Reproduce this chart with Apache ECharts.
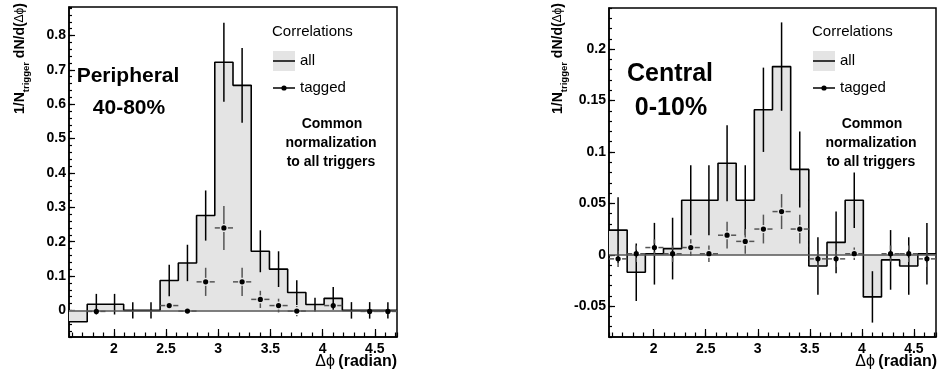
<!DOCTYPE html>
<html>
<head>
<meta charset="utf-8">
<script src="https://cdn.jsdelivr.net/npm/echarts@6/dist/echarts.min.js"></script>
<style>
  html, body { margin: 0; padding: 0; background: #fff; }
  #chart { width: 938px; height: 379px; }
</style>
</head>
<body>
<div id="chart"></div>
<script>
// 18 bins of width pi/18 covering pi/2 .. 3pi/2
const binCount = 18;
const binStart = Math.PI / 2;
const binWidth = Math.PI / 18;

// peripheral 40-80%
const allPeripheral = [-0.033, 0.018, 0.018, 0, 0, 0.087, 0.138, 0.276, 0.722, 0.655, 0.172, 0.12, 0.052, 0.017, 0.035, 0, 0, 0];
const allPeripheralErr = [0, 0.03, 0.03, 0.024, 0.024, 0.046, 0.053, 0.073, 0.115, 0.109, 0.061, 0.052, 0.036, 0.02, 0.033, 0.024, 0.024, 0.024];
const taggedPeripheral = [null, -0.003, null, null, null, 0.014, -0.002, 0.083, 0.24, 0.083, 0.032, 0.014, -0.002, null, 0.014, null, -0.003, -0.003];
const taggedPeripheralErr = [0, 0.006, 0, 0, 0, 0.01, 0.01, 0.041, 0.064, 0.041, 0.025, 0.02, 0.015, 0, 0.01, 0, 0.006, 0.006];

// central 0-10%
const allCentral = [0.024, -0.017, 0.001, 0.006, 0.053, 0.053, 0.089, 0.053, 0.141, 0.183, 0.083, -0.011, 0.012, 0.053, -0.041, -0.005, -0.011, 0.001];
const allCentralErr = [0.032, 0.028, 0.03, 0.03, 0.034, 0.034, 0.037, 0.034, 0.041, 0.043, 0.037, 0.028, 0.03, 0.027, 0.025, 0.029, 0.028, 0.03];
const taggedCentral = [-0.004, 0.001, 0.007, 0.001, 0.007, 0.001, 0.019, 0.013, 0.025, 0.042, 0.025, -0.004, -0.004, 0.001, null, 0.001, 0.001, -0.004];
const taggedCentralErr = [0.008, 0.008, 0.008, 0.008, 0.008, 0.008, 0.013, 0.012, 0.014, 0.017, 0.014, 0.008, 0.008, 0.006, 0, 0.008, 0.008, 0.008];

const yRangePeripheral = [-0.0775, 0.883];
const yRangeCentral = [-0.08, 0.24];

const FONT = "'Liberation Sans', Arial, Helvetica, sans-serif";
const FILL = "#e4e4e4";

const binEdges = [];
for (let i = 0; i <= binCount; i++) binEdges.push(binStart + i * binWidth);
const binCenters = binEdges.slice(0, binCount).map((e) => e + binWidth / 2);

function stepData(vals) {
  const d = vals.map((v, i) => [binEdges[i], v]);
  d.push([binEdges[binCount], vals[binCount - 1]]);
  return d;
}

function errData(vals, errs) {
  const out = [];
  vals.forEach((v, i) => {
    if (v === null) return;
    out.push([binCenters[i], v, errs[i], binEdges[i], binEdges[i + 1]]);
  });
  return out;
}

function renderAllErr(params, api) {
  const x = api.value(0), y = api.value(1), e = api.value(2);
  if (!e) return null;
  const t = api.coord([x, y + e]);
  const b = api.coord([x, y - e]);
  return {
    type: "line",
    shape: { x1: t[0], y1: t[1], x2: b[0], y2: b[1] },
    style: { stroke: "#000", lineWidth: 1.5 }
  };
}

function renderTagged(params, api) {
  const x = api.value(0), y = api.value(1), e = api.value(2);
  const c = api.coord([x, y]);
  const l = api.coord([api.value(3), y]);
  const h = api.coord([api.value(4), y]);
  const t = api.coord([x, y + e]);
  const b = api.coord([x, y - e]);
  const g = 4;
  const st = { stroke: "#555", lineWidth: 1.5 };
  const kids = [
    { type: "line", shape: { x1: l[0], y1: c[1], x2: c[0] - g, y2: c[1] }, style: st },
    { type: "line", shape: { x1: c[0] + g, y1: c[1], x2: h[0], y2: c[1] }, style: st }
  ];
  if (t[1] < c[1] - g) kids.push({ type: "line", shape: { x1: c[0], y1: t[1], x2: c[0], y2: c[1] - g }, style: st });
  if (b[1] > c[1] + g) kids.push({ type: "line", shape: { x1: c[0], y1: c[1] + g, x2: c[0], y2: b[1] }, style: st });
  kids.push({ type: "circle", shape: { cx: c[0], cy: c[1], r: 2.6 }, style: { fill: "#000" } });
  return { type: "group", children: kids };
}

const grids = [
  { left: 69, top: 7, width: 328, height: 330 },
  { left: 69, top: 7, width: 328, height: 330 },
  { left: 609, top: 8, width: 327, height: 329 },
  { left: 609, top: 8, width: 327, height: 329 }
];

function mainX(gi) {
  return {
    type: "value", gridIndex: gi, min: binStart, max: binStart + Math.PI, splitNumber: 6,
    axisLine: { show: true, onZero: false, lineStyle: { color: "#000", width: 1.5 } },
    axisTick: { inside: true, length: 8, lineStyle: { color: "#000", width: 1.2 } },
    axisLabel: { showMinLabel: false, showMaxLabel: false, margin: 5, color: "#000", fontFamily: FONT, fontWeight: "bold", fontSize: 14 },
    splitLine: { show: false }
  };
}
function minorX(gi) {
  return {
    type: "value", gridIndex: gi, min: binStart, max: binStart + Math.PI, splitNumber: 31,
    axisLine: { show: false, onZero: false },
    axisTick: { inside: true, length: 4.5, lineStyle: { color: "#000", width: 1.2 } },
    axisLabel: { show: false }, splitLine: { show: false }
  };
}
function mainY(gi, range, split) {
  return {
    type: "value", gridIndex: gi, min: range[0], max: range[1], splitNumber: split,
    axisLine: { show: true, onZero: false, lineStyle: { color: "#000", width: 1.5 } },
    axisTick: { inside: true, length: 6, lineStyle: { color: "#000", width: 1.2 } },
    axisLabel: { showMinLabel: false, showMaxLabel: false, margin: 3, color: "#000", fontFamily: FONT, fontWeight: "bold", fontSize: 14 },
    splitLine: { show: false }
  };
}
function minorY(gi, range, split) {
  return {
    type: "value", gridIndex: gi, min: range[0], max: range[1], splitNumber: split,
    axisLine: { show: false, onZero: false },
    axisTick: { inside: true, length: 3, lineStyle: { color: "#000", width: 1.2 } },
    axisLabel: { show: false }, splitLine: { show: false }
  };
}

function panelSeries(axisIdx, all, allErr, tagged, taggedErr) {
  return [
    {
      type: "line", xAxisIndex: axisIdx, yAxisIndex: axisIdx, step: "end",
      data: stepData(all), symbol: "none", silent: true, z: 1,
      lineStyle: { width: 0 }, areaStyle: { color: FILL, opacity: 1 },
      markLine: {
        silent: true, symbol: "none", label: { show: false },
        lineStyle: { color: "#555", width: 1.5, type: "solid" },
        data: [{ yAxis: 0 }]
      }
    },
    {
      type: "line", xAxisIndex: axisIdx, yAxisIndex: axisIdx, step: "end",
      data: stepData(all), symbol: "none", silent: true, z: 3,
      lineStyle: { color: "#000", width: 1.6 }
    },
    {
      type: "custom", xAxisIndex: axisIdx, yAxisIndex: axisIdx, clip: true, z: 4,
      data: errData(all, allErr), renderItem: renderAllErr
    },
    {
      type: "custom", xAxisIndex: axisIdx, yAxisIndex: axisIdx, clip: true, z: 5,
      data: errData(tagged, taggedErr), renderItem: renderTagged
    }
  ];
}

function txt(x, y, text, size, weight, align) {
  return {
    type: "text", x: x, y: y, z: 10,
    style: { text: text, fill: "#000", font: weight + " " + size + "px " + FONT, align: align || "center", verticalAlign: "middle" }
  };
}

function panelGraphics(dx, big1, big2, bigSize, bigX, bigY1, bigY2, yTitleX) {
  return [
    {
      type: "text", x: yTitleX, y: 3, rotation: Math.PI / 2, z: 10,
      style: {
        text: "{a|1/N}{s|trigger}{a| dN/d(}{g|\u0394\u03d5}{a|)}",
        align: "right", verticalAlign: "middle",
        rich: {
          a: { fontFamily: FONT, fontWeight: "bold", fontSize: 14, lineHeight: 22, fill: "#000" },
          s: { fontFamily: FONT, fontWeight: "bold", fontSize: 9.5, lineHeight: 10, verticalAlign: "bottom", fill: "#000" },
          g: { fontFamily: FONT, fontSize: 12, lineHeight: 22, fill: "#000" }
        }
      }
    },
    {
      type: "text", x: 397 + dx, y: 362, z: 10,
      style: {
        text: "{g|\u0394\u03d5} {a|(radian)}", align: "right", verticalAlign: "middle",
        rich: {
          a: { fontFamily: FONT, fontWeight: "bold", fontSize: 16, fill: "#000" },
          g: { fontFamily: FONT, fontSize: 16, fill: "#000" }
        }
      }
    },
    txt(272 + dx, 32, "Correlations", 15, "normal", "left"),
    { type: "rect", shape: { x: 273 + dx, y: 51, width: 22, height: 20 }, style: { fill: FILL }, z: 10 },
    { type: "line", shape: { x1: 273 + dx, y1: 61, x2: 295 + dx, y2: 61 }, style: { stroke: "#000", lineWidth: 1.5 }, z: 10 },
    txt(300 + dx, 61, "all", 15, "normal", "left"),
    { type: "line", shape: { x1: 273 + dx, y1: 88, x2: 295 + dx, y2: 88 }, style: { stroke: "#000", lineWidth: 1.5 }, z: 10 },
    { type: "circle", shape: { cx: 284 + dx, cy: 88, r: 2.6 }, style: { fill: "#000" }, z: 10 },
    txt(300 + dx, 88, "tagged", 15, "normal", "left"),
    txt(bigX, bigY1, big1, bigSize, "bold"),
    txt(bigX + 1, bigY2, big2, bigSize, "bold"),
    txt(332 + dx, 124, "Common", 14, "bold"),
    txt(331 + dx, 143, "normalization", 14, "bold"),
    txt(331 + dx, 162, "to all triggers", 14, "bold")
  ];
}

const chart = echarts.init(document.getElementById("chart"), null, { renderer: "canvas" });
chart.setOption({
  backgroundColor: "#fff",
  animation: false,
  grid: grids.map((g, i) => Object.assign({
    show: i % 2 === 0, borderColor: "#000", borderWidth: 1.5, backgroundColor: "transparent", containLabel: false
  }, g)),
  xAxis: [mainX(0), minorX(1), mainX(2), minorX(3)],
  yAxis: [
    mainY(0, yRangePeripheral, 10), minorY(1, yRangePeripheral, 48),
    mainY(2, yRangeCentral, 6), minorY(3, yRangeCentral, 32)
  ],
  series: [
    ...panelSeries(0, allPeripheral, allPeripheralErr, taggedPeripheral, taggedPeripheralErr),
    ...panelSeries(2, allCentral, allCentralErr, taggedCentral, taggedCentralErr)
  ],
  graphic: [
    ...panelGraphics(0, "Peripheral", "40-80%", 21, 128, 76, 108, 20),
    ...panelGraphics(540, "Central", "0-10%", 25, 670, 74, 108, 558)
  ]
});
window.addEventListener("resize", () => chart.resize());
</script>
</body>
</html>
